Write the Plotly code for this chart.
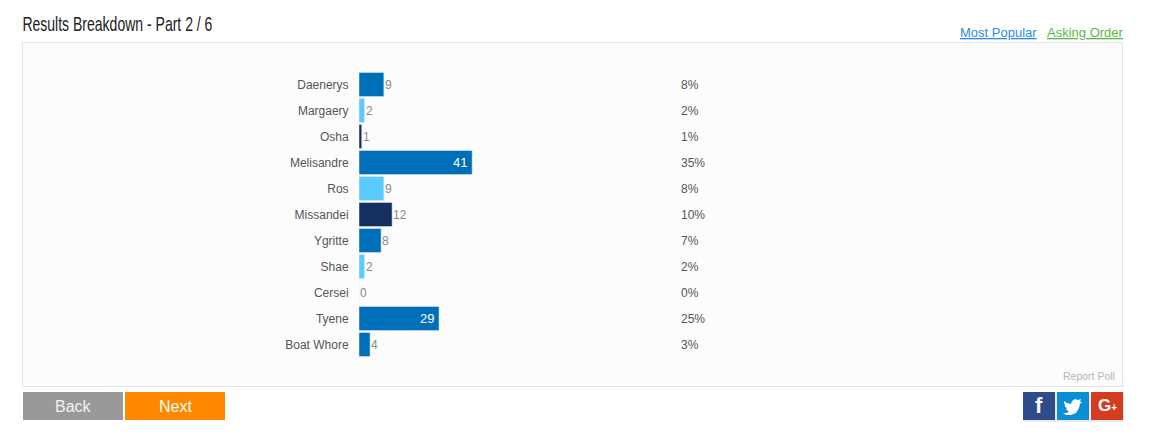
import plotly.graph_objects as go

W, H = 1149, 439

names = ["Daenerys", "Margaery", "Osha", "Melisandre", "Ros", "Missandei", "Ygritte", "Shae", "Cersei", "Tyene", "Boat Whore"]
votes = [9, 2, 1, 41, 9, 12, 8, 2, 0, 29, 4]
percents = ["8%", "2%", "1%", "35%", "8%", "10%", "7%", "2%", "0%", "25%", "3%"]
bar_colors = ["#006fba", "#5bcbff", "#162f63", "#006fba", "#5bcbff", "#162f63", "#006fba", "#5bcbff", "#162f63", "#006fba", "#006fba"]


# page pixels to paper coordinates
def px(x):
    return x / W


def py(y):
    return 1 - y / H


def box(x0, y0, x1, y1, fill, line=None):
    return dict(type="rect", xref="paper", yref="paper", x0=px(x0), x1=px(x1), y0=py(y0), y1=py(y1),
                fillcolor=fill, line=dict(color=line, width=1) if line else dict(width=0), layer="below")


def label(x, y, text, size=12, color="#555555", anchor="left", family="Liberation Sans"):
    return dict(xref="paper", yref="paper", x=px(x), y=py(y), text=text, showarrow=False, xanchor=anchor,
                yanchor="middle", font=dict(size=size, color=color, family=family))


# twitter bird, page pixels
bird = [(1064, 401), (1067, 403), (1071, 404), (1072, 401), (1075, 399), (1078, 400), (1081, 399), (1080, 402),
        (1082, 402), (1080, 404), (1079, 408), (1076, 413), (1071, 415), (1066, 415), (1063, 413), (1067, 413),
        (1069, 411), (1066, 410), (1067, 408), (1065, 407), (1065, 405), (1064, 403)]
bird_path = "M" + " L".join(f"{px(x):.5f},{py(y):.5f}" for x, y in bird) + " Z"

shapes = [
    box(22.5, 42.5, 1122.5, 386.5, "#fcfcfc", "#e4e4e4"),
    box(1024, 393, 1124, 422, "rgba(0,0,0,0.08)"),
    box(23, 392, 123, 420, "#999999"),
    box(125, 392, 225, 420, "#ff8800"),
    box(1023, 392, 1055, 420, "#2f4b8c"),
    box(1057, 392, 1089, 420, "#0a8fd6"),
    box(1091, 392, 1123, 420, "#d53c1e"),
    dict(type="path", xref="paper", yref="paper", path=bird_path, fillcolor="white", line=dict(width=0)),
]

annotations = [
    label(117, 23, "Results Breakdown - Part 2 / 6", size=21, color="#222222", anchor="center"),
    label(958, 32, "<u>Most Popular</u>", size=13, color="#2d8ee0"),
    label(1045, 32, "<u>Asking Order</u>", size=13, color="#5ab94a"),
    label(1117, 376, "Report Poll", size=10.5, color="#b5b5b5", anchor="right"),
    label(73, 406, "Back", size=16, color="#f2f2f2", anchor="center"),
    label(175, 406, "Next", size=16, color="#ffffff", anchor="center"),
    label(1039, 405, "<b>f</b>", size=22, color="#ffffff", anchor="center"),
    label(1096, 405, '<b>G<span style="font-size:10px">+</span></b>', size=17, color="#ffffff"),
]

for name, pct, v in zip(names, percents, votes):
    annotations.append(dict(xref="paper", yref="y", x=px(679), y=name, text=pct, showarrow=False,
                            xanchor="left", font=dict(size=12, color="#555555", family="Liberation Sans")))
    # the two long bars carry their number inside
    if v > 20:
        annotations.append(dict(xref="x", yref="y", x=v, y=name, xshift=-3, text=str(v), showarrow=False,
                                xanchor="right", font=dict(size=13, color="#ffffff", family="Liberation Sans")))
    else:
        annotations.append(dict(xref="x", yref="y", x=v, y=name, xshift=-1, text=str(v), showarrow=False,
                                xanchor="left", font=dict(size=12, color="#888888", family="Liberation Sans")))

fig = go.Figure(go.Bar(
    x=votes,
    y=names,
    orientation="h",
    marker_color=bar_colors,
    cliponaxis=False,
    hoverinfo="skip",
))

fig.update_layout(
    width=W,
    height=H,
    margin=dict(l=0, r=0, t=0, b=0),
    paper_bgcolor="white",
    plot_bgcolor="rgba(0,0,0,0)",
    showlegend=False,
    bargap=2 / 26,
    shapes=shapes,
    annotations=annotations,
    font=dict(family="Liberation Sans", size=12, color="#555555"),
    xaxis=dict(domain=[px(359), px(1115)], range=[0, 756 / 2.76], visible=False, fixedrange=True),
    yaxis=dict(domain=[py(357.5), py(71.5)], categoryorder="array", categoryarray=names, autorange="reversed",
               showgrid=False, showline=False, zeroline=False, ticks="outside", ticklen=7,
               tickcolor="rgba(0,0,0,0)", tickfont=dict(size=12, color="#555555"), fixedrange=True),
)

# the narrow heading font is not installed, so squeeze the title to the reference width
post = """
document.body.style.margin = '0';
document.querySelectorAll('.annotation-text').forEach(function (t) {
    if (t.textContent.indexOf('Results') === 0) {
        t.setAttribute('textLength', '190');
        t.setAttribute('lengthAdjust', 'spacingAndGlyphs');
    }
});
"""
fig.write_html("out.html", config=dict(displayModeBar=False), post_script=post)
